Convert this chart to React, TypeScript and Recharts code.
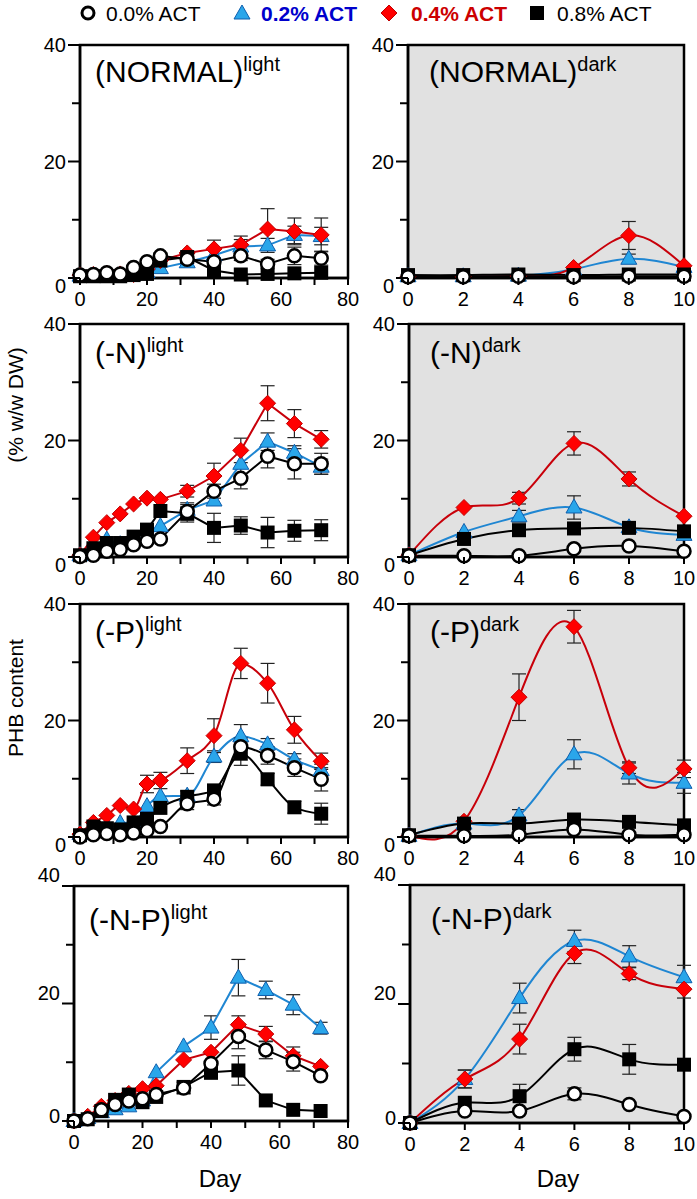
import { LineChart, Line, XAxis, YAxis, CartesianGrid, ReferenceArea, ErrorBar } from "recharts";

// sampling days
const dayLight = [0, 4, 8, 12, 16, 20, 24, 32, 40, 48, 56, 64, 72];
const dayDark = [0, 2, 4, 6, 8, 10];

// (NORMAL) light
const nl00 = [0.5, 0.6, 0.9, 0.7, 1.8, 2.8, 3.8, 3.2, 2.8, 3.8, 2.4, 3.8, 3.4];
const nl00e = [0, 0, 0, 0, 0, 0, 0.5, 0.5, 0, 0.8, 0.8, 1.5, 1.2];
const nl02 = [0.4, 0.4, 0.5, 0.5, 0.6, 1.0, 1.7, 2.7, 3.9, 5.4, 5.6, 7.4, 7.2];
const nl02e = [0, 0, 0, 0, 0, 0, 0, 0, 0, 1.2, 1.2, 1.5, 1.5];
const nl04 = [0.5, 0.6, 0.8, 0.7, 0.6, 1.5, 3.0, 4.3, 5.0, 5.7, 8.4, 8.0, 7.4];
const nl04e = [0, 0, 0, 0, 0, 0, 0, 0, 1.5, 1.5, 3.5, 2.3, 2.9];
const nl08 = [0.3, 0.3, 0.3, 0.3, 0.5, 0.7, 3.0, 3.6, 1.3, 0.6, 0.7, 0.8, 0.9];
const nl08e = [0, 0, 0, 0, 0, 0, 0, 0, 0, 0, 0, 0, 0];

// (NORMAL) dark
const nd00 = [0.2, 0.2, 0.3, 0.2, 0.3, 0.3];
const nd00e = [0, 0, 0, 0, 0, 0];
const nd02 = [0.3, 0.3, 0.4, 1.5, 3.3, 1.9];
const nd02e = [0, 0, 0, 0, 0.8, 0];
const nd04 = [0.2, 0.2, 0.3, 1.8, 7.3, 2.1];
const nd04e = [0, 0, 0, 0, 2.4, 0];
const nd08 = [0.5, 0.5, 0.6, 0.5, 0.6, 0.6];
const nd08e = [0, 0, 0, 0, 0, 0];

// (-N) light
const nnl00 = [0.1, 0.3, 1.0, 1.3, 2.1, 2.7, 3.1, 7.8, 11.3, 13.5, 17.3, 16.0, 16.0];
const nnl00e = [0, 0, 0, 0, 0, 0, 0, 1.5, 1.2, 1.8, 2.0, 2.6, 1.8];
const nnl02 = [0.3, 1.5, 3.0, 2.2, 3.0, 3.5, 5.3, 8.1, 9.7, 16.0, 19.8, 17.9, 15.5];
const nnl02e = [0, 0, 0, 0, 0, 0, 0, 0, 0, 0, 1.5, 1.2, 1.3];
const nnl04 = [0.3, 3.4, 5.9, 7.4, 9.1, 10.1, 9.9, 11.3, 13.9, 18.3, 26.4, 22.9, 20.2];
const nnl04e = [0, 0, 0, 0, 0, 0, 0, 1.0, 2.2, 2.1, 3.0, 2.4, 1.5];
const nnl08 = [0.3, 1.5, 2.4, 2.4, 3.5, 4.7, 7.9, 7.5, 5.0, 5.4, 4.2, 4.5, 4.6];
const nnl08e = [0, 0, 0, 0, 0, 0, 0, 1.5, 2.5, 1.5, 2.6, 1.8, 1.8];

// (-N) dark
const nnd00 = [0.2, 0.2, 0.2, 1.4, 1.9, 1.0];
const nnd00e = [0, 0, 0, 0, 0, 0];
const nnd02 = [0.3, 4.3, 7.0, 8.5, 5.1, 3.8];
const nnd02e = [0, 0, 1.0, 2.0, 0.8, 0];
const nnd04 = [0.3, 8.5, 10.1, 19.5, 13.4, 7.0];
const nnd04e = [0, 0, 1.0, 2.0, 1.2, 0];
const nnd08 = [0.3, 3.1, 4.6, 4.9, 5.0, 4.4];
const nnd08e = [0, 0, 0, 0, 0.8, 0];

// (-P) light
const pl00 = [0, 0.4, 0.6, 0.4, 0.7, 1.1, 1.8, 5.7, 6.5, 15.5, 14.0, 11.9, 9.9];
const pl00e = [0, 0, 0, 0, 0, 0, 0, 1.0, 1.0, 1.5, 1.5, 1.5, 2.0];
const pl02 = [0.5, 2.0, 2.0, 2.4, 2.5, 5.3, 7.0, 7.1, 13.8, 17.3, 15.9, 13.3, 11.5];
const pl02e = [0, 0, 0, 0, 0, 0, 0, 0, 1.0, 2.0, 1.0, 1.0, 1.0];
const pl04 = [0.5, 2.5, 3.7, 5.4, 4.8, 9.1, 9.7, 13.1, 17.4, 29.8, 26.4, 18.4, 13.0];
const pl04e = [0, 0, 0, 0, 0, 1.5, 1.4, 2.2, 2.9, 2.6, 3.4, 2.3, 1.4];
const pl08 = [0.3, 1.8, 1.5, 1.3, 2.5, 3.1, 5.0, 6.9, 8.0, 14.3, 9.9, 5.1, 4.0];
const pl08e = [0, 0, 0, 0, 0, 0, 0, 1.0, 1.0, 2.0, 1.0, 1.0, 1.8];

// (-P) dark
const pd00 = [0.2, 0.2, 0.4, 1.3, 0.4, 0.4];
const pd00e = [0, 0, 0, 0, 0, 0];
const pd02 = [0.2, 2.3, 3.7, 14.2, 10.9, 9.3];
const pd02e = [0, 0, 1.0, 2.5, 1.8, 1.8];
const pd04 = [0.2, 2.7, 24.0, 36.1, 11.9, 11.7];
const pd04e = [0, 0, 4.0, 2.8, 1.0, 1.5];
const pd08 = [0.3, 2.3, 2.3, 3.0, 2.6, 2.0];
const pd08e = [0, 0, 0, 0, 0, 0];

// (-N-P) light
const npl00 = [0, 0.4, 1.9, 2.8, 3.4, 3.8, 4.5, 5.6, 9.8, 14.4, 12.1, 10.1, 7.7];
const npl00e = [0, 0, 0, 0, 0, 0, 0, 1.0, 0, 2.1, 1.5, 1.6, 0];
const npl02 = [0, 0.5, 1.5, 2.0, 2.5, 3.5, 8.3, 12.7, 15.9, 24.4, 22.3, 19.8, 15.8];
const npl02e = [0, 0, 0, 0, 0, 0, 0, 0, 2.0, 3.1, 1.5, 1.7, 1.0];
const npl04 = [0, 0.8, 2.5, 3.5, 4.7, 5.5, 6.0, 10.4, 11.7, 16.4, 14.8, 11.1, 9.3];
const npl04e = [0, 0, 0, 0, 0, 0, 0, 0, 0, 1.5, 1.3, 1.5, 0];
const npl08 = [0, 0.3, 1.7, 3.6, 4.5, 3.2, 4.1, 5.8, 8.3, 8.6, 3.5, 1.9, 1.7];
const npl08e = [0, 0, 0, 0, 0, 0, 0, 0, 1.2, 2.5, 0, 0, 0];

// (-N-P) dark
const npd00 = [0, 2.0, 2.0, 4.9, 3.1, 1.1];
const npd00e = [0, 0, 0, 1.0, 0, 0];
const npd02 = [0, 7.4, 21.0, 30.6, 28.0, 24.5];
const npd02e = [0, 1.5, 2.5, 1.8, 1.8, 2.0];
const npd04 = [0, 7.4, 14.1, 28.5, 25.1, 22.5];
const npd04e = [0, 1.5, 2.5, 1.7, 1.0, 1.5];
const npd08 = [0, 3.4, 4.5, 12.4, 10.7, 9.8];
const npd08e = [0, 0, 2.0, 2.0, 2.5, 0];

const legendLabels = ["0.0% ACT", "0.2% ACT", "0.4% ACT", "0.8% ACT"];

const FONT = "'Liberation Sans', Arial, sans-serif";
const RED = "#c8000a";
const BLUE = "#1f86d2";

const rows = (days: number[], a: number[], ae: number[], b: number[], be: number[], c: number[], ce: number[], d: number[], de: number[]) =>
  days.map((day, i) => ({ day, s00: a[i], e00: ae[i], s02: b[i], e02: be[i], s04: c[i], e04: ce[i], s08: d[i], e08: de[i] }));

const circleDot = (p: any) =>
  p.cx == null ? <g key={p.index} /> : <circle key={p.index} cx={p.cx} cy={p.cy} r={6.5} fill="#fff" stroke="#000" strokeWidth={2.5} />;
const squareDot = (p: any) =>
  p.cx == null ? <g key={p.index} /> : <rect key={p.index} x={p.cx - 7} y={p.cy - 7} width={14} height={14} fill="#000" />;
const diamondDot = (p: any) =>
  p.cx == null ? <g key={p.index} /> : (
    <path key={p.index} d={`M${p.cx},${p.cy - 8}L${p.cx + 8},${p.cy}L${p.cx},${p.cy + 8}L${p.cx - 8},${p.cy}Z`} fill="#ff0000" stroke="#c00000" strokeWidth={1} />
  );
const triangleDot = (p: any) =>
  p.cx == null ? <g key={p.index} /> : (
    <path key={p.index} d={`M${p.cx},${p.cy - 8.5}L${p.cx + 8},${p.cy + 5.5}L${p.cx - 8},${p.cy + 5.5}Z`} fill="#2aa6ea" stroke="#0f5fae" strokeWidth={1} />
  );

type PanelProps = {
  data: any[];
  pl: number; pr: number; pt: number; pb: number;
  xMax: number; xTicks: number[]; labelEvery: number;
  dark: boolean; curve: any; labelShift: number; zeroShift: number;
};

function Panel({ data, pl, pr, pt, pb, xMax, xTicks, labelEvery, dark, curve, labelShift, zeroShift }: PanelProps) {
  const w = pr - pl + 80;
  const h = pb - pt + 70;
  const yTick = (p: any) => {
    const v = p.payload.value;
    const major = v % 20 === 0;
    const len = major ? 12 : 8;
    return (
      <g>
        <line x1={p.x} y1={p.y} x2={p.x - len} y2={p.y} stroke="#000" strokeWidth={2} />
        {major && (
          <text x={p.x - len - 2} y={p.y + 7 + labelShift + (v === 0 ? zeroShift : 0)} textAnchor="end" fontSize={20} fontFamily={FONT} fill="#000">
            {v}
          </text>
        )}
      </g>
    );
  };
  const xTick = (p: any) => {
    const v = p.payload.value;
    return (
      <g>
        <line x1={p.x} y1={p.y} x2={p.x} y2={p.y + 7} stroke="#000" strokeWidth={2} />
        {v % labelEvery === 0 && (
          <text x={p.x} y={p.y + 28} textAnchor="middle" fontSize={20} fontFamily={FONT} fill="#000">
            {v}
          </text>
        )}
      </g>
    );
  };
  return (
    <div style={{ position: "absolute", left: pl - 60, top: pt - 30 }}>
      <LineChart width={w} height={h} data={data} margin={{ top: 30, right: 20, bottom: 0, left: 0 }}>
        <CartesianGrid horizontal={false} vertical={false} fill={dark ? "#e1e1e1" : "#ffffff"} stroke="none" />
        <XAxis dataKey="day" type="number" domain={[0, xMax]} ticks={xTicks} interval={0} height={40}
          tickSize={0} tickMargin={0} tick={xTick} axisLine={{ stroke: "#000", strokeWidth: 2.5 }} />
        <YAxis type="number" domain={[0, 40]} ticks={[0, 10, 20, 30, 40]} interval={0} width={60}
          tickSize={0} tickMargin={0} tick={yTick} axisLine={{ stroke: "#000", strokeWidth: 2.5 }} />
        <ReferenceArea x1={0} x2={xMax} y1={0} y2={40} fill="none" fillOpacity={0} stroke="#000" strokeWidth={2.5} />
        <Line dataKey="s02" type={curve} stroke={BLUE} strokeWidth={2} dot={triangleDot} isAnimationActive={false}>
          <ErrorBar dataKey="e02" direction="y" width={7} stroke="#222" strokeWidth={1.2} />
        </Line>
        <Line dataKey="s04" type={curve} stroke={RED} strokeWidth={2} dot={diamondDot} isAnimationActive={false}>
          <ErrorBar dataKey="e04" direction="y" width={7} stroke="#222" strokeWidth={1.2} />
        </Line>
        <Line dataKey="s08" type={curve} stroke="#000" strokeWidth={2} dot={squareDot} isAnimationActive={false}>
          <ErrorBar dataKey="e08" direction="y" width={7} stroke="#222" strokeWidth={1.2} />
        </Line>
        <Line dataKey="s00" type={curve} stroke="#000" strokeWidth={2} dot={circleDot} isAnimationActive={false}>
          <ErrorBar dataKey="e00" direction="y" width={7} stroke="#222" strokeWidth={1.2} />
        </Line>
      </LineChart>
    </div>
  );
}

const lightTicks = [0, 10, 20, 30, 40, 50, 60, 70, 80];
const darkTicks = [0, 2, 4, 6, 8, 10];

const panels = [
  { key: "nl", title: "(NORMAL)", sup: "light", data: rows(dayLight, nl00, nl00e, nl02, nl02e, nl04, nl04e, nl08, nl08e), pl: 80, pr: 348, pt: 45, pb: 278, dark: false, curve: "linear", ty: 37 },
  { key: "nd", title: "(NORMAL)", sup: "dark", data: rows(dayDark, nd00, nd00e, nd02, nd02e, nd04, nd04e, nd08, nd08e), pl: 408, pr: 684, pt: 45, pb: 278, dark: true, curve: "natural", ty: 37 },
  { key: "nnl", title: "(-N)", sup: "light", data: rows(dayLight, nnl00, nnl00e, nnl02, nnl02e, nnl04, nnl04e, nnl08, nnl08e), pl: 80, pr: 348, pt: 324, pb: 557, dark: false, curve: "linear", ty: 39 },
  { key: "nnd", title: "(-N)", sup: "dark", data: rows(dayDark, nnd00, nnd00e, nnd02, nnd02e, nnd04, nnd04e, nnd08, nnd08e), pl: 409, pr: 684, pt: 324, pb: 557, dark: true, curve: "natural", ty: 39 },
  { key: "pl", title: "(-P)", sup: "light", data: rows(dayLight, pl00, pl00e, pl02, pl02e, pl04, pl04e, pl08, pl08e), pl: 80, pr: 348, pt: 604, pb: 837, dark: false, curve: "monotone", ty: 38 },
  { key: "pd", title: "(-P)", sup: "dark", data: rows(dayDark, pd00, pd00e, pd02, pd02e, pd04, pd04e, pd08, pd08e), pl: 409, pr: 684, pt: 604, pb: 837, dark: true, curve: "natural", ty: 38 },
  { key: "npl", title: "(-N-P)", sup: "light", data: rows(dayLight, npl00, npl00e, npl02, npl02e, npl04, npl04e, npl08, npl08e), pl: 74, pr: 348, pt: 886, pb: 1121, dark: false, curve: "linear", ty: 44 },
  { key: "npd", title: "(-N-P)", sup: "dark", data: rows(dayDark, npd00, npd00e, npd02, npd02e, npd04, npd04e, npd08, npd08e), pl: 410, pr: 684, pt: 885, pb: 1123, dark: true, curve: "natural", ty: 44 },
];

export default function App() {
  return (
    <div style={{ position: "absolute", left: 0, top: 0, width: 697, height: 1199, background: "#fff", fontFamily: FONT }}>
      {panels.map((p) => (
        <Panel key={p.key} data={p.data} pl={p.pl} pr={p.pr} pt={p.pt} pb={p.pb}
          xMax={p.dark ? 10 : 80} xTicks={p.dark ? darkTicks : lightTicks} labelEvery={p.dark ? 2 : 20}
          dark={p.dark} curve={p.curve} labelShift={p.pt > 880 ? -11 : 0} zeroShift={p.pt > 880 ? 6 : 8} />
      ))}
      <svg width={697} height={1199} style={{ position: "absolute", left: 0, top: 0, pointerEvents: "none" }} fontFamily={FONT}>
        {panels.map((p) => (
          <text key={p.key} x={p.pl + (p.dark ? 21 : 15)} y={p.pt + p.ty} fontSize={30} fill="#000">
            {p.title}
            <tspan dy={-11} fontSize={20}>{p.sup}</tspan>
          </text>
        ))}
        {/* legend */}
        <circle cx={88} cy={13} r={6} fill="#fff" stroke="#000" strokeWidth={3} />
        <text x={106} y={21} fontSize={21} fill="#000">{legendLabels[0]}</text>
        <path d="M242,5L250,19L234,19Z" fill="#2aa6ea" stroke="#0f5fae" strokeWidth={1} />
        <text x={261} y={21} fontSize={21} fontWeight="bold" fill="#0000cc">{legendLabels[1]}</text>
        <path d="M389,5L397,13L389,21L381,13Z" fill="#ff0000" stroke="#c00000" strokeWidth={1} />
        <text x={411} y={21} fontSize={21} fontWeight="bold" fill="#cc0000">{legendLabels[2]}</text>
        <rect x={530} y={6} width={14} height={14} fill="#000" />
        <text x={557} y={21} fontSize={21} fill="#000">{legendLabels[3]}</text>
        {/* axis titles */}
        <text transform="translate(23,405) rotate(-90)" textAnchor="middle" fontSize={21} fill="#000">(% w/w DW)</text>
        <text transform="translate(23,698) rotate(-90)" textAnchor="middle" fontSize={21} fill="#000">PHB content</text>
        <text x={220} y={1187} textAnchor="middle" fontSize={24} fill="#000">Day</text>
        <text x={558} y={1187} textAnchor="middle" fontSize={24} fill="#000">Day</text>
      </svg>
    </div>
  );
}
